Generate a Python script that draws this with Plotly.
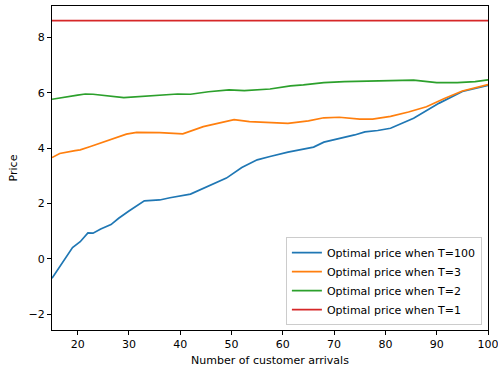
import plotly.graph_objects as go

# Data
x_t100 = [15, 19, 20.5, 22, 23, 24.5, 26.5, 28, 30, 31.5, 33, 36, 38, 42, 44.5, 49, 52, 55, 57.5,
          61, 66, 68, 74, 76, 78.5, 81, 85.5, 90.5, 95, 100]
y_t100 = [-0.70, 0.41, 0.62, 0.94, 0.93, 1.08, 1.24, 1.47, 1.73, 1.92, 2.10, 2.13, 2.21, 2.34, 2.55,
          2.92, 3.30, 3.58, 3.70, 3.86, 4.04, 4.22, 4.48, 4.59, 4.64, 4.72, 5.08, 5.63, 6.05, 6.27]

x_t3 = [15, 16.5, 19.5, 20.5, 22.5, 25, 27, 29.5, 31.5, 36, 40.5, 44.5, 50.5, 53.5, 61, 65, 68, 71,
        75, 77.5, 81, 84.5, 88, 91.5, 95, 100]
y_t3 = [3.66, 3.81, 3.91, 3.94, 4.06, 4.22, 4.33, 4.51, 4.57, 4.56, 4.52, 4.78, 5.03, 4.96, 4.90,
        4.99, 5.10, 5.12, 5.05, 5.05, 5.15, 5.31, 5.50, 5.80, 6.07, 6.30]

x_t2 = [15, 18.5, 20, 21.5, 23, 29, 33, 37.5, 39.5, 42, 45.5, 49.5, 52.5, 57.5, 61.5, 64, 68, 72,
        77, 83.5, 85.5, 90, 94, 97.5, 100]
y_t2 = [5.77, 5.89, 5.92, 5.96, 5.95, 5.83, 5.88, 5.93, 5.96, 5.95, 6.04, 6.11, 6.08, 6.14, 6.25,
        6.29, 6.37, 6.41, 6.43, 6.47, 6.46, 6.37, 6.37, 6.41, 6.47]

x_t1 = [15, 100]
y_t1 = [8.61, 8.61]

names = ["Optimal price when T=100", "Optimal price when T=3",
         "Optimal price when T=2", "Optimal price when T=1"]
colors = ["#1f77b4", "#ff7f0e", "#2ca02c", "#d62728"]

x_ticks = [20, 30, 40, 50, 60, 70, 80, 90, 100]
y_ticks = [-2, 0, 2, 4, 6, 8]

fig = go.Figure()
for xs, ys, nm, c in zip([x_t100, x_t3, x_t2, x_t1], [y_t100, y_t3, y_t2, y_t1], names, colors):
    fig.add_trace(go.Scatter(x=xs, y=ys, mode="lines", name=nm,
                             line=dict(color=c, width=1.7)))

font = dict(family="DejaVu Sans", size=11, color="black")
axis_common = dict(showline=True, linecolor="black", linewidth=1, mirror=True,
                   ticks="outside", ticklen=4, tickcolor="black", showgrid=False,
                   zeroline=False, tickfont=font, ticklabeloverflow="allow",
                   automargin=False)

fig.update_layout(
    width=498, height=372,
    margin=dict(l=52, r=10, t=6, b=42),
    paper_bgcolor="white", plot_bgcolor="white",
    font=font,
    xaxis=dict(range=[15, 100], tickvals=x_ticks,
               title=dict(text="Number of customer arrivals", font=font, standoff=6),
               **axis_common),
    yaxis=dict(range=[-2.57, 9.14], tickvals=y_ticks,
               title=dict(text="Price", font=font, standoff=8),
               **axis_common),
    legend=dict(x=0.986, y=0.015, xanchor="right", yanchor="bottom",
                bgcolor="rgba(255,255,255,0.8)", bordercolor="#cccccc", borderwidth=1,
                font=dict(family="DejaVu Sans", size=11, color="black"),
                tracegroupgap=0, itemwidth=30),
    showlegend=True,
)

fig.write_html("out.html")
